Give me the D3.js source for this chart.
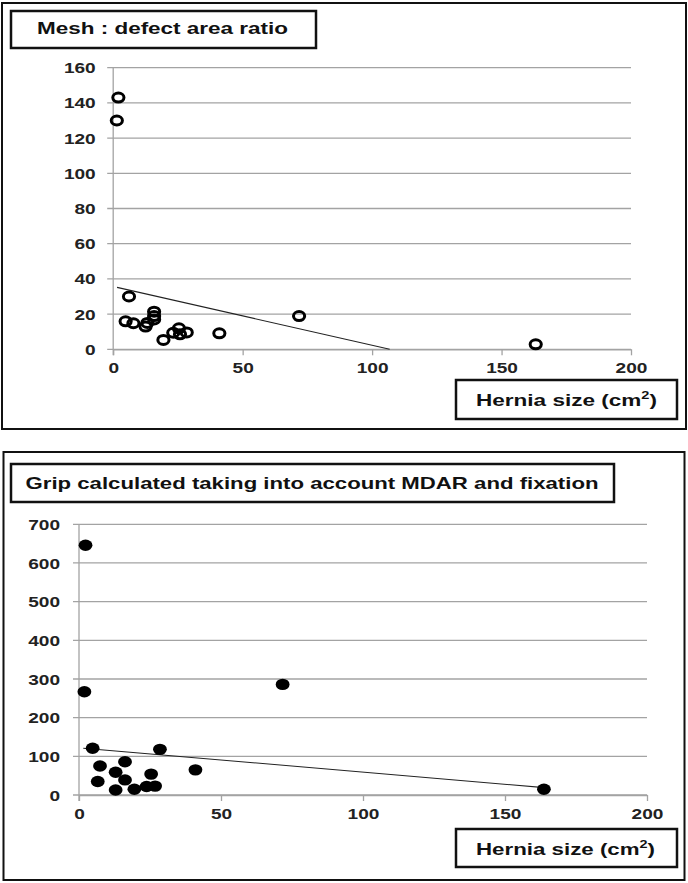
<!DOCTYPE html>
<html><head><meta charset="utf-8">
<script src="https://cdn.jsdelivr.net/npm/d3@7"></script>
<style>
html,body{margin:0;padding:0;background:#fff;}
svg{display:block;font-family:Arial,"Liberation Sans",sans-serif;}
</style></head>
<body>
<svg id="c" width="688" height="883"></svg>
<script>
// ---- data ----
const meshX = [2.0, 1.4, 6.1, 4.8, 7.8, 12.5, 13.2, 15.8, 15.8, 15.8, 19.4, 23.2, 25.4, 25.8, 28.4, 41.0, 71.8, 163.2];
const meshY = [143, 130, 30.0, 15.9, 14.8, 12.9, 15.0, 21.4, 18.9, 17.0, 5.3, 9.4, 11.9, 8.5, 9.6, 9.1, 18.9, 2.8];
const meshTrend = [[1.5, 35.2], [106.8, 0]];

const gripX = [2.3, 1.9, 4.8, 28.5, 7.4, 16.2, 12.9, 6.6, 16.2, 25.4, 12.9, 19.5, 23.8, 26.8, 41.0, 71.7, 163.7];
const gripY = [646, 267, 121, 118, 75, 86, 59, 35, 39, 54, 13, 15, 22, 23, 65, 286, 15];
const gripTrend = [[1.5, 121], [163.8, 19]];

const xTicks = [0, 50, 100, 150, 200];
const meshYTicks = [0, 20, 40, 60, 80, 100, 120, 140, 160];
const gripYTicks = [0, 100, 200, 300, 400, 500, 600, 700];

const title1 = "Mesh : defect area ratio";
const title2 = "Grip calculated taking into account MDAR and fixation";
const xLabel = "Hernia size (cm";

const svg = d3.select("#c");
const STRETCH = 1.36;
const GRID = "#a3a3a3";

function panel(cfg) {
  const g = svg.append("g");
  g.append("rect").attr("x", cfg.frame[0]).attr("y", cfg.frame[1])
    .attr("width", cfg.frame[2]).attr("height", cfg.frame[3])
    .attr("fill", "none").attr("stroke", "#111").attr("stroke-width", 2);
  g.append("rect").attr("x", cfg.tbox[0]).attr("y", cfg.tbox[1])
    .attr("width", cfg.tbox[2]).attr("height", cfg.tbox[3])
    .attr("fill", "#fff").attr("stroke", "#111").attr("stroke-width", 2.5);
  g.append("text").attr("x", cfg.tText[0]).attr("y", cfg.tText[1])
    .attr("font-size", 16.5).attr("font-weight", "bold").attr("fill", "#111")
    .attr("textLength", cfg.tText[2]).attr("lengthAdjust", "spacingAndGlyphs")
    .text(cfg.title);

  const x = d3.scaleLinear().domain([0, 200]).range(cfg.xr);
  const y = d3.scaleLinear().domain(cfg.yd).range(cfg.yr);

  g.append("g").selectAll("line").data(cfg.yTicks).join("line")
    .attr("x1", cfg.xr[0] - 6).attr("x2", cfg.xr[1])
    .attr("y1", d => y(d)).attr("y2", d => y(d))
    .attr("stroke", GRID).attr("stroke-width", 1.3);

  const ya = g.append("g").attr("transform", `translate(${cfg.xr[0]},0)`)
    .call(d3.axisLeft(y).tickValues(cfg.yTicks).tickSize(0).tickPadding(0));
  ya.select(".domain").remove();
  ya.selectAll("text")
    .attr("x", -cfg.yLabOff / STRETCH).attr("dy", "0.36em")
    .attr("transform", `scale(${STRETCH},1)`)
    .attr("font-size", 14).attr("font-weight", "bold").attr("fill", "#222")
    .attr("font-family", "Arial, 'Liberation Sans', sans-serif");
  g.append("line").attr("x1", cfg.xr[0]).attr("x2", cfg.xr[0])
    .attr("y1", cfg.yr[1]).attr("y2", cfg.yr[0] + 6)
    .attr("stroke", GRID).attr("stroke-width", 1.3);

  const xa = g.append("g").attr("transform", `translate(0,${cfg.yr[0]})`)
    .call(d3.axisBottom(x).tickValues(xTicks).tickSize(6).tickSizeOuter(0));
  xa.select(".domain").attr("stroke", GRID).attr("stroke-width", 1.3);
  xa.selectAll(".tick line").attr("stroke", GRID).attr("stroke-width", 1.3);
  xa.selectAll(".tick text")
    .attr("x", 0).attr("y", cfg.xLabOff).attr("dy", "0.36em")
    .attr("transform", `scale(${STRETCH},1)`)
    .attr("font-size", 14).attr("font-weight", "bold").attr("fill", "#222")
    .attr("font-family", "Arial, 'Liberation Sans', sans-serif");

  g.append("line")
    .attr("x1", x(cfg.trend[0][0])).attr("y1", y(cfg.trend[0][1]))
    .attr("x2", x(cfg.trend[1][0])).attr("y2", y(cfg.trend[1][1]))
    .attr("stroke", "#222").attr("stroke-width", 1.1);

  const pts = cfg.xs.map((v, i) => [v, cfg.ys[i]]);
  g.append("g").selectAll("ellipse").data(pts).join("ellipse")
    .attr("cx", d => x(d[0])).attr("cy", d => y(d[1]))
    .attr("rx", cfg.filled ? 6.9 : 5.6).attr("ry", cfg.filled ? 5.7 : 4.5)
    .attr("fill", cfg.filled ? "#000" : "none")
    .attr("stroke", "#000").attr("stroke-width", cfg.filled ? 0 : 3);

  g.append("rect").attr("x", cfg.xbox[0]).attr("y", cfg.xbox[1])
    .attr("width", cfg.xbox[2]).attr("height", cfg.xbox[3])
    .attr("fill", "#fff").attr("stroke", "#111").attr("stroke-width", 2.5);
  const xl = g.append("text").attr("x", cfg.xText[0]).attr("y", cfg.xText[1])
    .attr("font-size", 17).attr("font-weight", "bold").attr("fill", "#111")
    .attr("textLength", cfg.xText[2]).attr("lengthAdjust", "spacingAndGlyphs");
  xl.append("tspan").text(xLabel);
  xl.append("tspan").attr("dy", -7).attr("font-size", 11).text("2");
  xl.append("tspan").attr("dy", 7).text(")");
}

panel({
  frame: [2, 3, 684, 426],
  tbox: [11, 11, 305, 37],
  tText: [37, 34, 251],
  title: title1,
  xr: [113.2, 631], yr: [349.3, 67.7], yd: [0, 160],
  yTicks: meshYTicks, yLabOff: 17.5, xLabOff: 19,
  trend: meshTrend, xs: meshX, ys: meshY, filled: false,
  xbox: [456, 380, 221, 39],
  xText: [476, 406, 181]
});

panel({
  frame: [3.5, 452, 681, 428],
  tbox: [11, 464, 603, 38],
  tText: [25.5, 489, 573],
  title: title2,
  xr: [79, 647], yr: [795, 524.3], yd: [0, 700],
  yTicks: gripYTicks, yLabOff: 19, xLabOff: 19,
  trend: gripTrend, xs: gripX, ys: gripY, filled: true,
  xbox: [456, 829, 221, 38],
  xText: [476, 855, 179]
});
</script>
</body></html>
